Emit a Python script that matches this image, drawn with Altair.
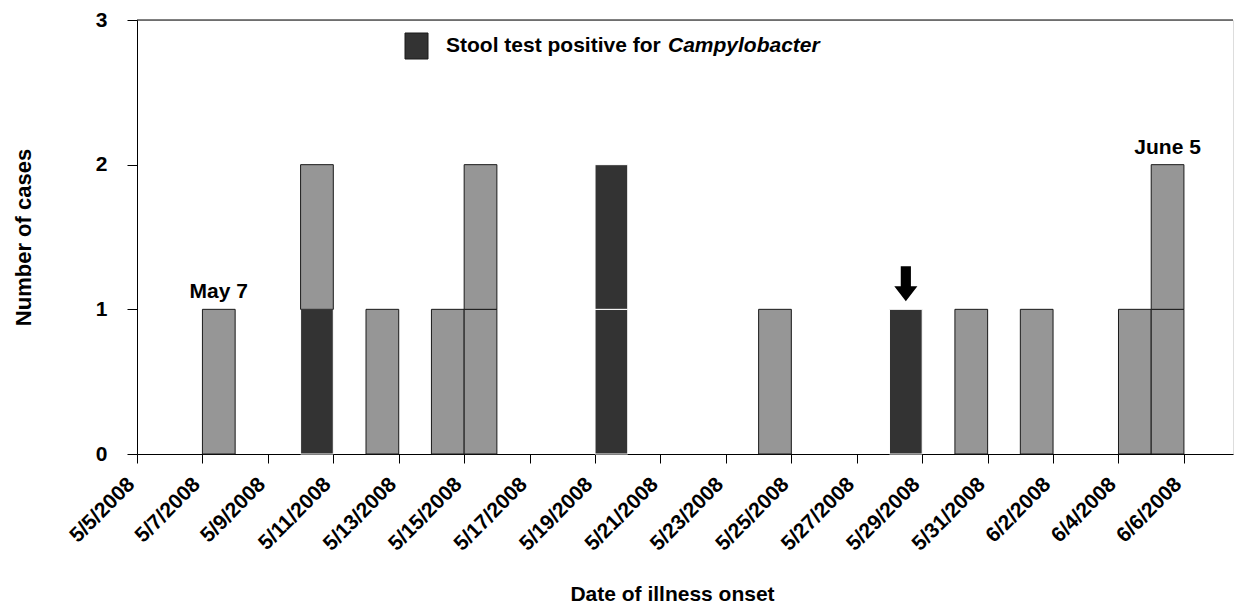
import altair as alt
import pandas as pd

# ---- data ----
onset_dates = ["2008-05-07", "2008-05-10", "2008-05-12", "2008-05-14", "2008-05-15",
               "2008-05-19", "2008-05-24", "2008-05-28", "2008-05-30", "2008-06-01",
               "2008-06-04", "2008-06-05"]
positive_cases = [0, 1, 0, 0, 0, 2, 0, 1, 0, 0, 0, 0]
other_cases = [1, 1, 1, 1, 2, 0, 1, 0, 1, 1, 1, 2]

tick_dates = ["2008-05-05", "2008-05-07", "2008-05-09", "2008-05-11", "2008-05-13",
              "2008-05-15", "2008-05-17", "2008-05-19", "2008-05-21", "2008-05-23",
              "2008-05-25", "2008-05-27", "2008-05-29", "2008-05-31", "2008-06-02",
              "2008-06-04", "2008-06-06"]
domain_dates = ["2008-05-05T00:00:00", "2008-06-07T12:00:00"]

note_labels = ["May 7", "June 5"]
note_dates = ["2008-05-07", "2008-06-05"]
note_counts = [1, 2]

arrow_dates = ["2008-05-28"]
arrow_counts = [1]

DAY = 86400000


def ms(s):
    return int(pd.Timestamp(s, tz="UTC").value // 10**6)


rows = []
for d, p, o in zip(onset_dates, positive_cases, other_cases):
    level = 0
    for _ in range(p):
        rows.append({"start": ms(d), "end": ms(d) + DAY, "lo": level, "hi": level + 1,
                     "status": "positive"})
        level += 1
    for _ in range(o):
        rows.append({"start": ms(d), "end": ms(d) + DAY, "lo": level, "hi": level + 1,
                     "status": "other"})
        level += 1
cases = pd.DataFrame(rows)

notes = pd.DataFrame({"label": note_labels,
                      "mid": [ms(d) + DAY // 2 for d in note_dates],
                      "count": note_counts})
arrows = pd.DataFrame({"mid": [ms(d) + DAY // 2 for d in arrow_dates],
                       "count": arrow_counts})

FONT = "Liberation Sans"
PLOT_H = 434

xscale = alt.Scale(type="utc", domain=[ms(d) for d in domain_dates], nice=False)
yscale = alt.Scale(domain=[0, 3], nice=False)

xaxis = alt.Axis(values=[ms(d) for d in tick_dates],
                 labelExpr="utcFormat(datum.value, '%-m/%-d/%Y')",
                 labelAngle=-45, labelAlign="right", labelBaseline="middle",
                 labelFont=FONT, labelFontSize=21, labelFontWeight="bold",
                 labelColor="black", labelPadding=18, labelOffset=-6,
                 labelFlush=False, labelOverlap=False,
                 tickSize=9, tickColor="black", domainColor="black", grid=False,
                 title="Date of illness onset", titleFont=FONT, titleFontSize=21,
                 titleFontWeight="bold", titleColor="black",
                 titleX=535, titleY=140, titleAlign="center", titleBaseline="middle")

yaxis = alt.Axis(values=[0, 1, 2, 3], format="d",
                 labelFont=FONT, labelFontSize=21, labelFontWeight="bold",
                 labelColor="black", labelPadding=20, labelFlush=False,
                 tickSize=10, tickColor="black", domainColor="black", grid=False,
                 title="Number of cases", titleFont=FONT, titleFontSize=22,
                 titleFontWeight="bold", titleColor="black",
                 titleX=-114, titleY=PLOT_H / 2, titleAngle=-90,
                 titleAlign="center", titleBaseline="middle")

bars = alt.Chart(cases).mark_rect(strokeWidth=1).encode(
    x=alt.X("start:T", scale=xscale, axis=xaxis),
    x2="end:T",
    y=alt.Y("lo:Q", scale=yscale, axis=yaxis),
    y2="hi:Q",
    fill=alt.Fill("status:N", legend=None,
                  scale=alt.Scale(domain=["positive", "other"], range=["#333333", "#969696"])),
    stroke=alt.Stroke("status:N", legend=None,
                      scale=alt.Scale(domain=["positive", "other"], range=["#ffffff", "#1a1a1a"])),
)

top_line = alt.Chart(pd.DataFrame({"top": [3]})).mark_rule(color="black", strokeWidth=1).encode(
    y=alt.Y("top:Q", scale=yscale)
)

note_text = alt.Chart(notes).mark_text(
    baseline="bottom", dy=-7, font=FONT, fontSize=21, fontWeight="bold", color="black"
).encode(x=alt.X("mid:T", scale=xscale), y=alt.Y("count:Q", scale=yscale), text="label:N")

arrow_path = "M -0.29 -1 L 0.29 -1 L 0.29 0.14 L 0.66 0.14 L 0 1 L -0.66 0.14 L -0.29 0.14 Z"
arrow = alt.Chart(arrows).mark_point(
    shape=arrow_path, size=1225, filled=True, color="black", opacity=1, yOffset=-25.5
).encode(x=alt.X("mid:T", scale=xscale), y=alt.Y("count:Q", scale=yscale))

legend_df = pd.DataFrame({"k": [0]})
legend_box = alt.Chart(legend_df).mark_rect(fill="#333333", stroke="#1a1a1a", strokeWidth=1).encode(
    x=alt.value(268), x2=alt.value(291), y=alt.value(13), y2=alt.value(39)
)
legend_text1 = alt.Chart(legend_df).mark_text(
    align="left", baseline="middle", font=FONT, fontSize=21, fontWeight="bold", color="black"
).encode(x=alt.value(309), y=alt.value(26), text=alt.value("Stool test positive for"))
legend_text2 = alt.Chart(legend_df).mark_text(
    align="left", baseline="middle", font=FONT, fontSize=21, fontWeight="bold",
    fontStyle="italic", color="black"
).encode(x=alt.value(531), y=alt.value(26), text=alt.value("Campylobacter"))

chart = alt.layer(
    bars, top_line, note_text, arrow, legend_box, legend_text1, legend_text2
).properties(
    width=1096, height=PLOT_H, autosize="none",
    padding={"left": 129, "top": 12, "right": 2, "bottom": 154},
).configure_view(stroke=None).configure(background="white")

chart.save("out.html", embed_options={"renderer": "svg", "actions": False})
